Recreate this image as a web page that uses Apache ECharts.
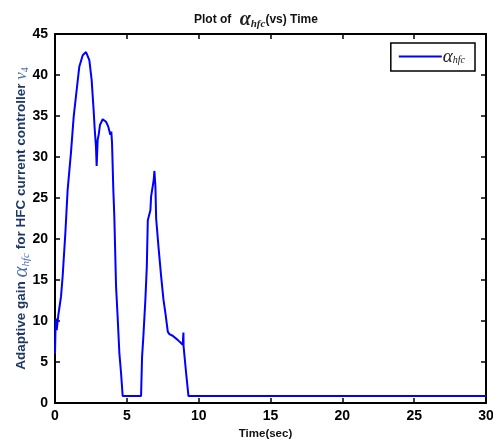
<!DOCTYPE html>
<html><head><meta charset="utf-8">
<script src="https://cdn.jsdelivr.net/npm/echarts@6/dist/echarts.min.js"></script>
<style>html,body{margin:0;padding:0;background:#fff}#c{width:493px;height:443px}</style>
</head><body><div id="c"></div>
<script>
const times = [0, 0.04, 0.07, 0.12, 0.23, 0.42, 0.53, 0.72, 0.88, 1.11, 1.3, 1.51, 1.69, 1.93, 2.16, 2.39, 2.55, 2.69, 2.76, 2.85, 2.9, 2.97, 3.04, 3.13, 3.32, 3.55, 3.71, 3.85, 3.92, 3.97, 4.06, 4.13, 4.25, 4.36, 4.48, 4.6, 4.71, 5.99, 6.06, 6.15, 6.29, 6.39, 6.46, 6.64, 6.69, 6.8, 6.87, 6.92, 6.99, 7.04, 7.22, 7.39, 7.55, 7.69, 7.85, 7.96, 8.19, 8.54, 8.89, 8.93, 8.94, 8.95, 9.13, 9.29, 30];
const values = [6.0, 9.5, 10.3, 8.9, 10.7, 13.0, 15.4, 20.7, 26.0, 30.5, 34.9, 38.2, 41.0, 42.4, 42.8, 41.8, 39.4, 35.7, 33.5, 31.3, 28.9, 32.1, 32.7, 33.9, 34.6, 34.3, 33.7, 32.7, 33.1, 31.7, 26.0, 22.7, 14.2, 10.5, 6.1, 3.6, 0.85, 0.85, 5.6, 8.1, 12.6, 16.6, 22.3, 23.5, 25.2, 26.4, 27.2, 28.3, 26.4, 22.5, 18.7, 15.4, 12.6, 10.9, 8.7, 8.4, 8.2, 7.7, 7.1, 7.0, 8.6, 6.9, 3.6, 0.85, 0.85];
const xTicks = [0, 5, 10, 15, 20, 25, 30];
const yTicks = [0, 5, 10, 15, 20, 25, 30, 35, 40, 45];
const seriesName = 'alpha_hfc';

const chart = echarts.init(document.getElementById('c'), null, {renderer: 'canvas'});
const tickLbl = {fontFamily: 'Liberation Sans, Arial', fontWeight: 'bold', fontSize: 14, color: '#000'};
chart.setOption({
  animation: false,
  backgroundColor: '#fff',
  title: {
    text: '{b|Plot of }{a|α}{s|hfc}{b|(vs) Time}',
    left: 189, top: 5,
    textStyle: {
      rich: {
        b: {fontFamily: 'Liberation Sans, Arial', fontWeight: 'bold', fontSize: 12, color: '#111'},
        a: {fontFamily: 'Liberation Serif, Times New Roman', fontStyle: 'italic', fontSize: 20, color: '#222', padding: [0, 0, 0, 5]},
        s: {fontFamily: 'Liberation Serif, Times New Roman', fontStyle: 'italic', fontSize: 11, color: '#222', padding: [9, 0, 0, 0]}
      }
    }
  },
  legend: {
    right: 18, top: 43,
    data: [seriesName],
    icon: 'rect',
    itemWidth: 43, itemHeight: 2, itemGap: 0,
    padding: [4, 10, 5, 8],
    borderColor: '#000', borderWidth: 1.5,
    backgroundColor: '#fff',
    formatter: () => '{a|α}{s|hfc}',
    textStyle: {
      padding: [0, 0, 0, -4],
      rich: {
        a: {fontFamily: 'Liberation Serif, Times New Roman', fontStyle: 'italic', fontSize: 19, color: '#222'},
        s: {fontFamily: 'Liberation Serif, Times New Roman', fontStyle: 'italic', fontSize: 10, color: '#222', padding: [8, 0, 0, 0]}
      }
    }
  },
  grid: {left: 55, right: 7, top: 34, bottom: 40, containLabel: false, outerBoundsMode: 'none'},
  xAxis: [{
    type: 'value', min: 0, max: 30, interval: 5,
    name: 'Time(sec)', nameLocation: 'middle', nameGap: 23,
    nameTextStyle: {fontFamily: 'Liberation Sans, Arial', fontWeight: 'bold', fontSize: 11.5, color: '#111', padding: [0, 10, 0, 0]},
    axisLine: {show: true, lineStyle: {color: '#000', width: 2}},
    axisTick: {show: true, inside: true, length: 5, lineStyle: {color: '#000', width: 1.5}},
    axisLabel: Object.assign({margin: 6}, tickLbl),
    splitLine: {show: false}
  }, {
    type: 'value', min: 0, max: 30, interval: 5, position: 'top',
    axisLine: {show: true, onZero: false, lineStyle: {color: '#000', width: 2}},
    axisTick: {show: true, inside: true, length: 5, lineStyle: {color: '#000', width: 1.5}},
    axisLabel: {show: false}, splitLine: {show: false}
  }],
  yAxis: [{
    type: 'value', min: 0, max: 45, interval: 5,
    name: '{d|Adaptive gain }{a|α}{s|hfc}{d| for HFC current controller }{v|v}{vs|4}',
    nameLocation: 'middle', nameGap: 23, nameRotate: 90, nameMoveOverlap: false,
    nameTextStyle: {
      padding: [0, 0, 0, 0],
      rich: {
        d: {fontFamily: 'Liberation Sans, Arial', fontWeight: 'bold', fontSize: 13.5, color: '#1f3864'},
        a: {fontFamily: 'Liberation Serif, Times New Roman', fontStyle: 'italic', fontSize: 21, color: '#4a6fb5'},
        s: {fontFamily: 'Liberation Serif, Times New Roman', fontStyle: 'italic', fontSize: 11, color: '#4a6fb5', padding: [9, 0, 0, 0]},
        v: {fontFamily: 'Liberation Serif, Times New Roman', fontStyle: 'italic', fontSize: 17, color: '#4a6fb5'},
        vs: {fontFamily: 'Liberation Serif, Times New Roman', fontSize: 10, color: '#4a6fb5', padding: [7, 0, 0, 0]}
      }
    },
    axisLine: {show: true, lineStyle: {color: '#000', width: 2}},
    axisTick: {show: true, inside: true, length: 5, lineStyle: {color: '#000', width: 1.5}},
    axisLabel: Object.assign({margin: 7}, tickLbl),
    splitLine: {show: false}
  }, {
    type: 'value', min: 0, max: 45, interval: 5, position: 'right',
    axisLine: {show: true, onZero: false, lineStyle: {color: '#000', width: 2}},
    axisTick: {show: true, inside: true, length: 5, lineStyle: {color: '#000', width: 1.5}},
    axisLabel: {show: false}, splitLine: {show: false}
  }],
  series: [{
    name: seriesName, type: 'line',
    xAxisIndex: 0, yAxisIndex: 0,
    data: times.map((t, i) => [t, values[i]]),
    showSymbol: false, symbol: 'none',
    lineStyle: {color: '#0000ff', width: 2},
    itemStyle: {color: '#0000ff'}
  }]
});
</script></body></html>
